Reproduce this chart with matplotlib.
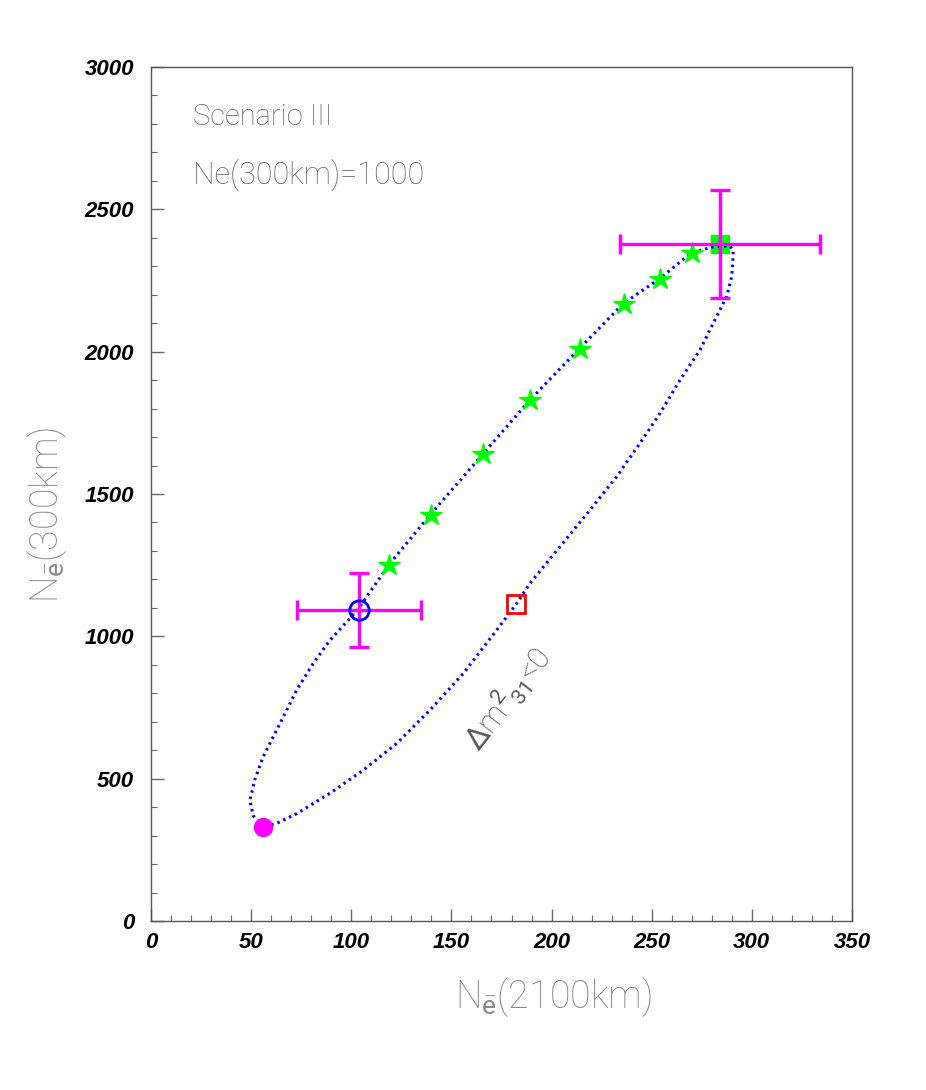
import matplotlib
matplotlib.use("Agg")
import matplotlib.pyplot as plt
from matplotlib.ticker import MultipleLocator

# curve traced around the loop (N(2100km), N(300km))
curve_x = [56, 51, 49.4, 52, 56, 64.4, 72.7, 81, 89.4, 103, 119.3, 139.3, 165.9, 189.2,
           214.2, 235.8, 254.1, 269.9, 280.7, 289, 290.7, 290.5, 289.9, 287.4, 284, 280,
           274.1, 264.1, 254.1, 244.1, 232.5, 219.2, 204.2, 189.2, 182, 172.6, 156, 139.3,
           122.7, 106, 89.4, 72.7, 62.7, 56]
curve_y = [331, 370, 425, 500, 577, 694, 811, 905, 987, 1092, 1256, 1426, 1642, 1830,
           2013, 2169, 2257, 2348, 2368, 2371, 2357, 2310, 2263, 2193, 2146, 2090,
           2006, 1900, 1783, 1678, 1561, 1444, 1315, 1186, 1110, 1022, 870, 741,
           624, 530, 449, 377, 343, 331]

star_x = [119, 140, 166, 189, 214, 236, 254, 270]
star_y = [1252, 1426, 1640, 1830, 2010, 2169, 2257, 2348]

# special points
min_pt = (56, 330)
max_pt = (284, 2378)
max_err = (50, 190)
circ_pt = (104, 1091)
circ_err = (31, 130)
red_pt = (182, 1112)

thin = "Roboto"

fig = plt.figure(figsize=(9.26, 10.90), dpi=100)
ax = fig.add_axes([151/926, 1-921/1090, (852-151)/926, (921-67)/1090])

ax.plot(curve_x, curve_y, color="#0000ff", lw=2.2, linestyle=(0, (0.8, 1.3)))
ax.plot(star_x, star_y, linestyle="none", marker="*", ms=16, color="#00ff00", mec="#00ff00")

ax.errorbar([max_pt[0]], [max_pt[1]], xerr=[max_err[0]], yerr=[max_err[1]], fmt="none",
            ecolor="#ff00ff", elinewidth=2.4, capsize=7, capthick=2.4)
ax.errorbar([circ_pt[0]], [circ_pt[1]], xerr=[circ_err[0]], yerr=[circ_err[1]], fmt="none",
            ecolor="#ff00ff", elinewidth=2.4, capsize=7, capthick=2.4)

ax.plot([max_pt[0]], [max_pt[1]], marker="s", ms=13, color="#00ff00", linestyle="none", zorder=1.5)
ax.plot([circ_pt[0]], [circ_pt[1]], marker="o", ms=14, mfc="none", mec="#0000ff", mew=2,
        linestyle="none")
ax.plot([red_pt[0]], [red_pt[1]], marker="s", ms=13, mfc="none", mec="#ff0000", mew=2,
        linestyle="none")
ax.plot([min_pt[0]], [min_pt[1]], marker="o", ms=13, color="#ff00ff", linestyle="none")

ax.set_xlim(0, 350)
ax.set_ylim(0, 3000)
ax.xaxis.set_major_locator(MultipleLocator(50))
ax.xaxis.set_minor_locator(MultipleLocator(10))
ax.yaxis.set_major_locator(MultipleLocator(500))
ax.yaxis.set_minor_locator(MultipleLocator(100))
ax.tick_params(which="both", direction="in", color="#666666", top=False, right=False)
ax.tick_params(which="major", length=9, width=1)
ax.tick_params(which="minor", length=4.5, width=0.8)
ax.tick_params(axis="y", pad=12)
ax.tick_params(axis="x", pad=8)
for lab in ax.get_xticklabels() + ax.get_yticklabels():
    lab.set_fontfamily("Liberation Sans")
    lab.set_fontweight("bold")
    lab.set_fontstyle("italic")
    lab.set_fontsize(16)
for sp in ax.spines.values():
    sp.set_color("#555555")
    sp.set_linewidth(1)

plt.rcParams["mathtext.fontset"] = "custom"
plt.rcParams["mathtext.rm"] = thin
plt.rcParams["mathtext.it"] = thin

ax.text(0.06, 0.958, "Scenario III", transform=ax.transAxes, fontsize=21, family=thin,
        weight="light", color="#666666", va="top")
ax.text(0.06, 0.893, "Ne(300km)=1000", transform=ax.transAxes, fontsize=22, family=thin,
        weight="light", color="#666666", va="top")
ax.text(178, 782, r"$\Delta$m$^{2}{}_{31}$<0", fontsize=22, family=thin, weight="light",
        color="#555555", rotation=52, ha="center", va="center", rotation_mode="anchor")

fig.text(553/926, 1-997/1090, r"N$_{\mathrm{\bar{e}}}$(2100km)", fontsize=27, family=thin,
         weight="light", color="#888888", ha="center", va="center")
fig.text(47/926, 1-515/1090, r"N$_{\mathrm{\bar{e}}}$(300km)", fontsize=27, family=thin,
         weight="light", color="#888888", ha="center", va="center", rotation=90)

fig.savefig("out.png", dpi=100, facecolor="white")
